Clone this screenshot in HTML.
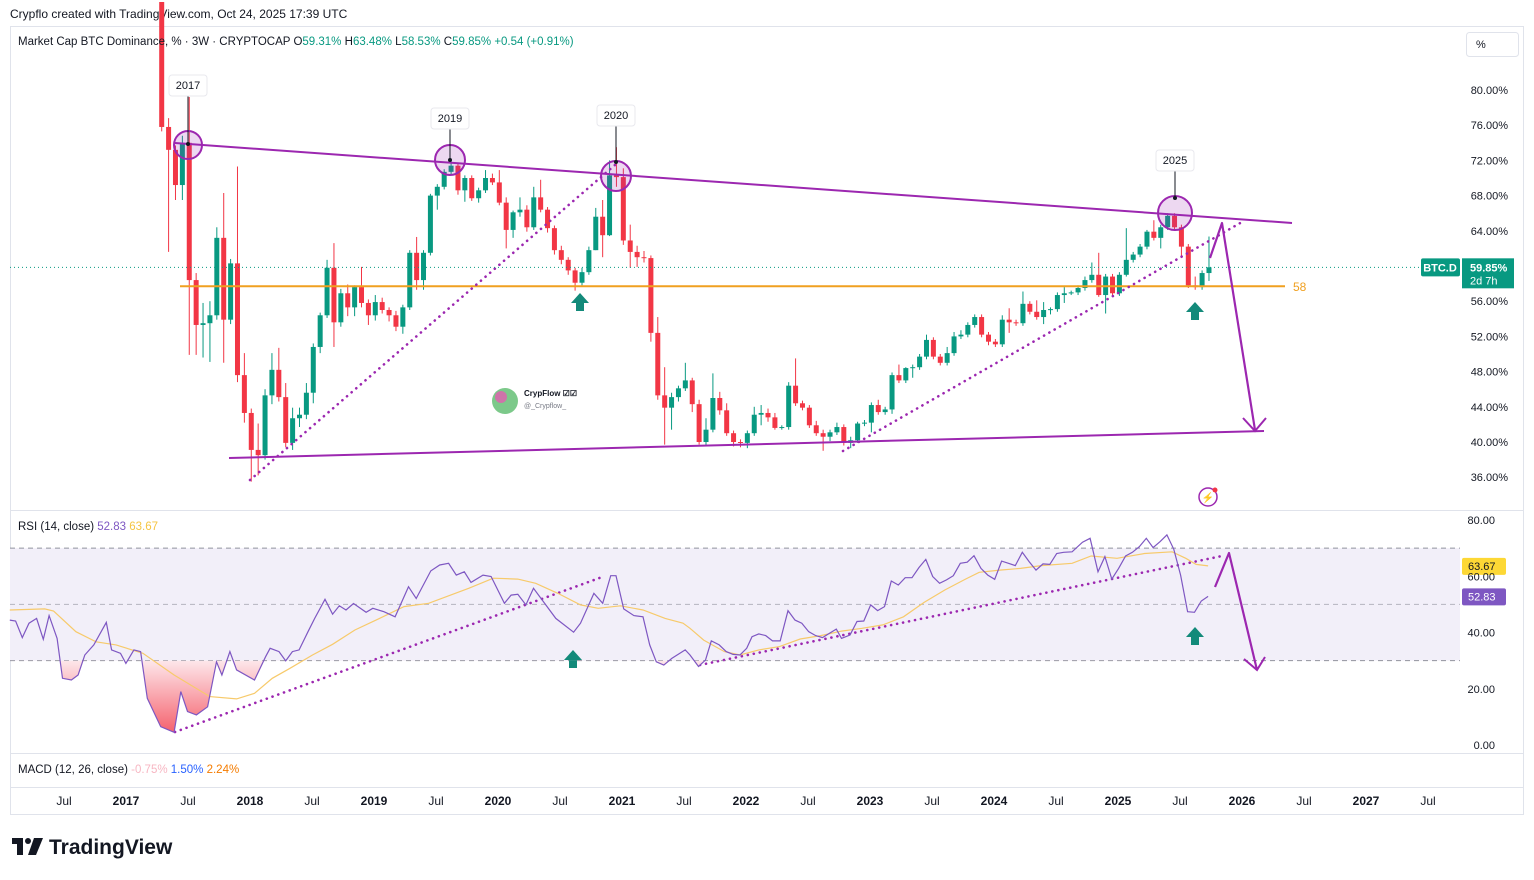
<!DOCTYPE html>
<html><head><meta charset="utf-8"><style>
body{margin:0;background:#fff;width:1534px;height:875px;overflow:hidden;font-family:"Liberation Sans",sans-serif}
svg text{font-family:"Liberation Sans",sans-serif}
</style></head><body>
<svg id="c" width="1534" height="875" xmlns="http://www.w3.org/2000/svg">
<rect width="1534" height="875" fill="#fff"/>
<text x="10" y="18" font-size="12" fill="#131722">Crypflo created with TradingView.com, Oct 24, 2025 17:39 UTC</text>
<rect x="10.5" y="26.5" width="1513" height="788" fill="none" stroke="#e0e3eb"/>
<line x1="10" y1="510.5" x2="1524" y2="510.5" stroke="#e0e3eb"/>
<line x1="10" y1="753.5" x2="1524" y2="753.5" stroke="#e0e3eb"/>
<line x1="10" y1="787.5" x2="1524" y2="787.5" stroke="#e0e3eb"/>
<g id="rsiBg"></g>
<g id="candles"></g>
<g id="ann"></g>
<g id="rsi"></g>
<g id="axes"></g>
<g>
<text x="18" y="45" font-size="11.5" fill="#131722">Market Cap BTC Dominance, % · 3W · CRYPTOCAP  <tspan fill="#131722">O</tspan><tspan fill="#089981">59.31%</tspan>  <tspan fill="#131722">H</tspan><tspan fill="#089981">63.48%</tspan>  <tspan fill="#131722">L</tspan><tspan fill="#089981">58.53%</tspan>  <tspan fill="#131722">C</tspan><tspan fill="#089981">59.85%</tspan>  <tspan fill="#089981">+0.54 (+0.91%)</tspan></text>
<text x="18" y="530" font-size="11.5" fill="#131722">RSI (14, close) <tspan fill="#7e57c2">52.83</tspan> <tspan fill="#f5c542">63.67</tspan></text>
<text x="18" y="773" font-size="11.5" fill="#131722">MACD (12, 26, close) <tspan fill="#f7b6c2">-0.75%</tspan> <tspan fill="#2962ff">1.50%</tspan> <tspan fill="#f57c00">2.24%</tspan></text>
</g>
<rect x="1466.5" y="32.5" width="52" height="24" rx="3" fill="#fff" stroke="#e0e3eb"/>
<text x="1476" y="48" font-size="11" fill="#131722">%</text>
<g>
<g fill="#131722">
<rect x="12" y="838" width="11" height="6"/>
<rect x="17" y="838" width="6" height="17"/>
<circle cx="28" cy="841" r="3"/>
<polygon points="34,838 43,838 36,855 28,855"/>
</g>
<text x="49" y="854" font-size="21" font-weight="bold" fill="#131722">TradingView</text>
</g>
</svg>
<script>
const closes=[75.8,73.2,69.2,74,58.4,53.3,53.5,54.4,63.2,53.9,60.3,47.6,43.3,39.1,38.5,45.3,48.2,45.1,39.9,42.7,43.1,45.6,50.8,54.4,59.8,53.6,56.9,55.3,57.6,55.8,54.4,55.9,55,54.4,53.1,55.3,61.5,58.4,61.5,68,69,70.7,71.4,68.6,70,67.7,68.6,70,69.5,67.2,64.1,66.1,66.4,64.4,67.8,66.4,64.3,61.8,60.7,59.5,58.1,59.3,61.8,65.6,63.5,70.3,70.1,62.9,61.6,61,60.9,52.4,45.3,43.9,45.1,46.1,47,44.3,40,41.4,45,43.6,41,40,39.9,41,43.1,43.3,42.8,41.6,41.7,46.4,44.4,43.9,41.9,41,40.6,41.1,41.7,39.9,40.2,42.1,42.2,44.2,43.4,43.7,47.6,47,48.4,48.5,49.7,51.6,49.7,49,50.1,52,52.2,53.3,54.2,52.2,51.4,51.1,53.9,53.6,53.5,55.7,54.8,54.2,55,55.1,56.7,56.9,57,57.5,58.4,59,56.7,58.8,56.9,59,60.7,61.3,62.2,63.9,63.2,64.4,65.7,64.4,62.2,57.8,57.6,59.2,59.85];
const firstOpen=90;
const wickUp=[0,1,0.5,0.8,5.2,0.8,2.3,1.6,1.2,5.1,0.5,11,2.5,0.5,3,0.7,1.9,2.5,1.6,1.2,0.8,1.1,0.4,0.3,0.9,2.8,0.5,1,0.2,2.3,0.4,0.8,0.5,0.3,0.5,0.3,0.3,1.8,0.3,0.2,0.3,0.3,0.8,0.3,0.3,0.3,0.3,0.9,0.5,1.4,0.6,0.2,1.4,0.5,1.2,2,0.3,0.3,0.5,0.3,0.3,0.5,0.4,1,1.9,1.7,3.2,1,1.8,0.7,0.7,0.3,1.8,3.2,0.5,0.3,2,0.3,0.5,1.3,2.8,0.7,0.8,0.3,0.3,0.3,0.9,0.9,0.5,0.5,0.2,0.4,3.1,0.3,0.3,0.5,0.4,0.3,0.5,0.3,0.4,0.2,0.3,0.3,0.6,0.3,0.3,1.2,0.1,0.3,0.3,0.6,0.3,0.3,0.7,0.5,0.5,0.3,0.3,0.3,0.3,0.3,0.5,1.3,0.3,1.4,0.3,1.3,0.9,0.2,0.3,0.7,0.2,0.3,0.4,1.4,2.5,0.3,0.3,0.3,3.6,0.3,0.3,0.2,1.3,0.3,0.3,0.3,0.3,0.3,1,0.3,3.5];
const wickDn=[0.5,11.6,1.7,1.7,8.5,3.4,3.7,4.4,0.5,4.9,0.5,0.8,1.1,3.6,2.3,0.5,1,0.5,0.5,0.8,1,0.5,1.2,0.7,0.3,2.8,0.5,1,1,0.5,1.1,0.6,0.4,0.7,0.5,0.8,0.3,1.1,1.1,0.3,1.6,0.3,0.3,0.5,1.3,0.3,0.5,0.3,0.3,0.3,2.1,0.9,0.5,0.5,0.3,0.3,0.5,0.5,0.5,0.5,0.9,0.3,0.3,0,2.5,0.1,1.1,0.5,1.8,1.1,0.5,1,0.5,4.2,2.5,0.5,0.3,0.9,0.3,0.4,0.3,0.5,0.3,0.5,0.5,0.6,0.3,1.2,0.5,0.2,0.2,0.3,0.3,0.3,0.3,0.3,1.6,0.5,0.3,0.3,0.6,0.3,0.3,1.1,0.3,0.3,0.5,0.3,0.3,1.1,0.3,0.3,0.3,0.3,0.3,0.3,0.3,0.3,0.3,0.3,0.4,0.3,0.3,1.2,0.3,0.3,0.3,0.3,0.8,0.5,0.3,0.9,0.2,0.3,0.3,0.3,0.2,2.1,0.3,0.3,0.2,0.3,0.3,0.3,0.3,1.2,0.3,0.3,1.3,0.3,0.3,0.3,0.9];
const rsiT=[2016.063,2016.110,2016.164,2016.218,2016.279,2016.333,2016.380,2016.444,2016.488,2016.560,2016.614,2016.668,2016.740,2016.841,2016.884,2016.956,2016.999,2017.064,2017.118,2017.172,2017.280,2017.388,2017.442,2017.496,2017.568,2017.658,2017.730,2017.773,2017.838,2017.892,2018.036,2018.126,2018.162,2018.234,2018.288,2018.342,2018.396,2018.468,2018.522,2018.605,2018.666,2018.720,2018.774,2018.835,2018.936,2018.990,2019.080,2019.170,2019.278,2019.340,2019.458,2019.530,2019.602,2019.664,2019.728,2019.782,2019.879,2019.944,2020.052,2020.106,2020.160,2020.225,2020.286,2020.466,2020.610,2020.665,2020.773,2020.844,2020.909,2020.952,2021.014,2021.096,2021.169,2021.223,2021.277,2021.337,2021.402,2021.510,2021.548,2021.617,2021.673,2021.720,2021.784,2021.840,2021.895,2021.951,2022.006,2022.048,2022.103,2022.159,2022.214,2022.276,2022.339,2022.395,2022.450,2022.506,2022.562,2022.617,2022.673,2022.728,2022.770,2022.839,2022.895,2022.950,2023.006,2023.061,2023.117,2023.172,2023.228,2023.284,2023.339,2023.395,2023.450,2023.506,2023.561,2023.617,2023.672,2023.728,2023.784,2023.839,2023.895,2023.950,2024.006,2024.061,2024.117,2024.172,2024.228,2024.283,2024.339,2024.395,2024.450,2024.506,2024.561,2024.630,2024.714,2024.775,2024.839,2024.894,2024.950,2025.005,2025.061,2025.116,2025.172,2025.228,2025.283,2025.339,2025.394,2025.450,2025.505,2025.561,2025.617,2025.672,2025.727];
const rsiV=[44.4,44.1,38.2,43.3,45.0,37.6,46.0,37.9,23.7,23.1,24.9,32.0,35.6,43.6,33.8,32.6,29.0,33.8,33.2,16.6,6.5,4.5,19.0,11.9,10.7,13.6,29.6,24.9,33.2,26.7,23.1,31.4,34.4,33.2,29.9,33.2,33.8,40.3,45.0,51.8,46.5,49.5,48.0,50.3,47.2,48.6,47.4,45.6,56.3,52.1,61.9,64.0,64.6,60.4,61.6,57.8,60.4,59.9,50.4,53.3,53.6,49.8,55.7,45.0,40.1,43.3,53.9,50.4,60.2,60.2,48.4,46.0,45.6,35.6,29.6,28.4,30.8,33.8,32.0,27.9,30.2,37.0,35.6,33.2,32.2,32.0,34.4,38.5,39.5,38.9,37.0,37.0,47.8,44.4,43.3,40.3,38.9,38.2,39.7,41.2,37.9,39.1,43.9,44.1,49.8,47.8,49.2,58.3,56.9,59.5,59.5,63.1,66.0,59.9,57.5,58.7,60.2,64.6,65.0,67.3,62.8,60.4,58.9,65.4,64.6,63.8,68.5,65.2,62.2,64.4,64.2,68.1,68.5,68.7,72.1,73.5,61.6,67.0,59.0,62.8,67.2,68.5,70.5,73.5,70.2,72.3,74.7,69.6,60.4,47.4,47.2,51.2,52.83];
const maT=[2016.063,2016.344,2016.416,2016.596,2016.758,2016.920,2017.136,2017.388,2017.676,2017.892,2018.036,2018.180,2018.324,2018.504,2018.666,2018.846,2019.044,2019.242,2019.440,2019.764,2019.962,2020.160,2020.304,2020.484,2020.665,2020.808,2020.988,2021.169,2021.348,2021.492,2021.548,2021.659,2021.826,2021.951,2022.103,2022.270,2022.437,2022.603,2022.770,2022.936,2023.103,2023.270,2023.436,2023.603,2023.770,2023.881,2024.047,2024.214,2024.381,2024.630,2024.783,2024.992,2025.214,2025.436,2025.547,2025.630,2025.727];
const maV=[48.0,48.4,47.6,40.3,36.7,35.6,32.6,24.9,17.2,16.4,18.4,23.7,27.3,32.0,35.8,40.9,45.0,49.2,50.4,55.7,59.3,59.0,57.5,53.9,49.8,48.6,49.5,48.0,45.0,43.3,41.5,37.3,33.2,32.0,33.8,35.0,37.7,38.9,40.5,41.5,42.7,45.6,50.7,55.1,59.0,61.4,62.2,62.8,63.8,64.6,67.2,66.4,68.1,68.7,66.4,64.2,63.67];
const priceTicks=[80,76,72,68,64,56,52,48,44,40,36];
const rsiTicks=[80,60,40,20,0];
const timeLabels=["Jul","2017","Jul","2018","Jul","2019","Jul","2020","Jul","2021","Jul","2022","Jul","2023","Jul","2024","Jul","2025","Jul","2026","Jul","2027","Jul"];
const timeValues=[2016.5,2017,2017.5,2018,2018.5,2019,2019.5,2020,2020.5,2021,2021.5,2022,2022.5,2023,2023.5,2024,2024.5,2025,2025.5,2026,2026.5,2027,2027.5];
const levelValue=57.7;

const NS="http://www.w3.org/2000/svg";
const xC=i=>161.7+i*6.89;
const yP=v=>90+(80-v)*8.8;
const xT=t=>126+(t-2017)*124;
const yR=v=>745-v*2.8125;
function mk(tag,attrs,parent,txt){const e=document.createElementNS(NS,tag);for(const k in attrs)e.setAttribute(k,attrs[k]);if(txt!==undefined)e.textContent=txt;parent.appendChild(e);return e;}

const cg=document.getElementById('candles');


closes.forEach((c,i)=>{
  const o=i===0?firstOpen:closes[i-1];
  const up=c>=o, col=up?'#089981':'#f23645';
  const top=Math.max(o,c), bot=Math.min(o,c);
  const x=xC(i);
  const g=mk('g',{},cg);
  
  
  mk('line',{x1:x,x2:x,y1:yP(top+wickUp[i]),y2:yP(bot-wickDn[i]),stroke:col,'stroke-width':1},g);
  mk('rect',{x:x-2.5,y:yP(top),width:5,height:Math.max(1,yP(bot)-yP(top)),fill:col},g);
});

const ax=document.getElementById('axes');
priceTicks.forEach(v=>{const t=mk('text',{x:1508,y:yP(v)+4,'font-size':11,fill:'#131722','text-anchor':'end'},ax,v.toFixed(2)+'%');
});
rsiTicks.forEach(v=>{const t=mk('text',{x:1495,y:yR(v)+4,'font-size':11,fill:'#131722','text-anchor':'end'},ax,v.toFixed(2));
});
timeLabels.forEach((l,i)=>{const t=mk('text',{x:xT(timeValues[i]),y:805,'font-size':12,fill:'#131722','text-anchor':'middle','font-weight':l==='Jul'?'normal':'bold'},ax,l);
});

const cur=closes[closes.length-1];
const pl=mk('line',{x1:10,x2:1420,y1:yP(cur),y2:yP(cur),stroke:'#089981','stroke-dasharray':'1 3','stroke-width':1},ax);

const pb=mk('rect',{x:1421,y:yP(cur)-9,width:39,height:18,rx:2,fill:'#089981'},ax);

mk('text',{x:1440,y:yP(cur)+4,'font-size':11,fill:'#fff','text-anchor':'middle','font-weight':'bold'},ax,'BTC.D');
const vb=mk('rect',{x:1462,y:yP(cur)-9,width:52,height:30,fill:'#089981'},ax);

mk('text',{x:1470,y:yP(cur)+4,'font-size':11,fill:'#fff','font-weight':'bold'},ax,cur.toFixed(2)+'%');
mk('text',{x:1470,y:yP(cur)+17,'font-size':11,fill:'#fff'},ax,'2d 7h');

const rb=document.getElementById('rsiBg');
const band=mk('rect',{x:10,y:yR(70),width:1450,height:yR(30)-yR(70),fill:'#f2eff9'},rb);

[70,50,30].forEach(v=>{const l=mk('line',{x1:10,x2:1460,y1:yR(v),y2:yR(v),stroke:'#787b86','stroke-dasharray':'5 4','stroke-width':1,opacity:v===50?0.5:0.8},rb);
});

const rg=document.getElementById('rsi');
const defs=mk('defs',{},rg);
const gr2=mk('linearGradient',{id:'osg',gradientUnits:'userSpaceOnUse',x1:0,y1:yR(30),x2:0,y2:yR(0)},defs);
mk('stop',{offset:'0%','stop-color':'#fde4e8'},gr2);
mk('stop',{offset:'100%','stop-color':'#f23645'},gr2);
const cp=mk('clipPath',{id:'below30'},defs);
mk('rect',{x:0,y:yR(30),width:1534,height:200},cp);
const rsiPts=rsiT.map((t,i)=>xT(t).toFixed(1)+','+yR(rsiV[i]).toFixed(1));
const fillPts=rsiPts.concat([xT(rsiT[rsiT.length-1]).toFixed(1)+','+yR(30),xT(rsiT[0]).toFixed(1)+','+yR(30)]);
const of=mk('polygon',{points:fillPts.join(' '),fill:'url(#osg)','clip-path':'url(#below30)',opacity:0.9},rg);

const maL=mk('polyline',{points:maT.map((t,i)=>xT(t).toFixed(1)+','+yR(maV[i]).toFixed(1)).join(' '),fill:'none',stroke:'#f7ca6b','stroke-width':1.2},rg);

const rl=mk('polyline',{points:rsiPts.join(' '),fill:'none',stroke:'#7e57c2','stroke-width':1.2},rg);

const ml=mk('rect',{x:1462,y:yR(maV[maV.length-1])-8,width:44,height:17,rx:2,fill:'#fdd835'},rg);

mk('text',{x:1468,y:yR(maV[maV.length-1])+4,'font-size':11,fill:'#131722'},rg,maV[maV.length-1].toFixed(2));
const rvl=mk('rect',{x:1462,y:yR(rsiV[rsiV.length-1])-8,width:44,height:17,rx:2,fill:'#7e57c2'},rg);

mk('text',{x:1468,y:yR(rsiV[rsiV.length-1])+4,'font-size':11,fill:'#fff'},rg,rsiV[rsiV.length-1].toFixed(2));

const an=document.getElementById('ann');
const P='#9c27b0';
function line(n,x1,y1,x2,y2,extra){const l=mk('line',Object.assign({x1,y1,x2,y2,stroke:P,'stroke-width':2},extra||{}),an);return l;}
line('horizontal-level-58',180,yP(levelValue),1285,yP(levelValue),{stroke:'#f0a020'});
const t58=mk('text',{x:1293,y:yP(levelValue)+5,'font-size':12,fill:'#f0a020'},an,'58');

line('resistance-trendline',175,143,1292,223);
line('support-trendline',229,458,1264,431);
const dots={'stroke-dasharray':'0.1 6','stroke-linecap':'round','stroke-width':2.6};
line('rising-trendline-2017-2020',250,480,615,165,dots);
line('rising-trendline-2022-2025',843,451,1242,222,dots);
line('rsi-trendline-1',175,732,605,576,dots);
line('rsi-trendline-2',700,665,1222,556,dots);
[[188,145,14],[450,160,15],[616,176,15],[1175,213,17]].forEach(c=>{const e=mk('circle',{cx:c[0],cy:c[1],r:c[2],fill:'rgba(156,39,176,0.18)',stroke:P,'stroke-width':2},an);
});
[['2017',188,85,144],['2019',450,118,160],['2020',616,115,162],['2025',1175,160,198]].forEach(l=>{
  mk('line',{x1:l[1],x2:l[1],y1:l[2]+10,y2:l[3],stroke:'#131722','stroke-width':1},an);
  mk('circle',{cx:l[1],cy:l[3],r:2,fill:'#131722'},an);
  const r=mk('rect',{x:l[1]-19,y:l[2]-10,width:38,height:21,rx:3,fill:'#fff',stroke:'#e8e8ee'},an);
  
  mk('text',{x:l[1],y:l[2]+4,'font-size':11,fill:'#131722','text-anchor':'middle'},an,l[0]);
});
function arrowUp(n,x,y){const p=mk('path',{d:`M${x} ${y-10} L${x+9} ${y} L${x+4} ${y} L${x+4} ${y+8} L${x-4} ${y+8} L${x-4} ${y} L${x-9} ${y} Z`,fill:'#138a7a'},an);}
arrowUp('support-arrow-2020',580,303);arrowUp('support-arrow-2025',1195,312);
arrowUp('rsi-arrow-2020',573,660);arrowUp('rsi-arrow-2025',1195,637);
function proj(n,pts,head){const p=mk('polyline',{points:pts,fill:'none',stroke:P,'stroke-width':2.2,'stroke-linejoin':'round'},an);
 const h=mk('polyline',{points:head,fill:'none',stroke:P,'stroke-width':2},an);}
proj('price-projection-arrow','1210,258 1222,223 1255,430','1243,418 1255,431 1266,418');
proj('rsi-projection-arrow','1215,587 1229,553 1257,670','1244,659 1257,670 1265,657');
const wm=mk('g',{},an);
mk('circle',{cx:505,cy:401,r:13,fill:'#7cc98a'},wm);
mk('circle',{cx:501,cy:397,r:6,fill:'#e35fb0',opacity:0.8},wm);
mk('text',{x:524,y:396,'font-size':8,'font-weight':'bold',fill:'#131722'},wm,'CrypFlow ☑☑');
mk('text',{x:524,y:408,'font-size':7,fill:'#787b86'},wm,'@_Crypflow_');
const li=mk('g',{},an);
mk('circle',{cx:1208,cy:497,r:9,fill:'none',stroke:P,'stroke-width':1.5},li);
mk('text',{x:1208,y:501,'font-size':10,fill:P,'text-anchor':'middle'},li,'⚡');
mk('circle',{cx:1215,cy:490,r:2.5,fill:'#f23645'},li);
</script>
</body></html>
